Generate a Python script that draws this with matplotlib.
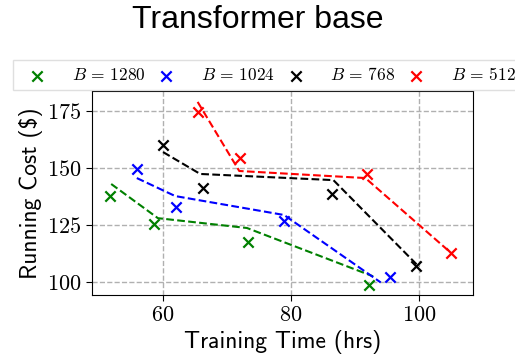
import matplotlib
matplotlib.use("Agg")
import matplotlib.pyplot as plt
from matplotlib.ticker import FuncFormatter

plt.rcParams['mathtext.fontset'] = 'cm'

labels = [r"$B\,=\,1280$", r"$B\,=\,1024$", r"$B\,=\,768$", r"$B\,=\,512$"]
colors = ["green", "blue", "black", "red"]

# measured points
pt_x = [
    [51.7, 58.6, 73.3, 92.2],
    [55.9, 62.0, 78.9, 95.5],
    [60.0, 66.3, 86.4, 99.5],
    [65.4, 72.0, 91.9, 105.0],
]
pt_y = [
    [137.7, 125.4, 117.5, 98.7],
    [149.6, 132.9, 126.8, 102.2],
    [160.1, 141.2, 138.6, 107.0],
    [174.6, 154.4, 147.4, 112.7],
]
# fitted dashed lines
ln_x = [
    [51.9, 59.2, 73.1, 92.8],
    [55.9, 61.9, 78.9, 94.0],
    [60.0, 65.8, 86.6, 100.0],
    [65.4, 71.9, 91.6, 105.0],
]
ln_y = [
    [143.0, 128.0, 123.7, 102.5],
    [145.6, 137.7, 129.4, 99.8],
    [157.0, 147.4, 144.7, 106.6],
    [179.0, 148.7, 145.6, 112.7],
]
yticks = [100, 125, 150, 175]
xticks = [60, 80, 100]

fig = plt.figure(figsize=(5.15, 3.61), dpi=100)
ax = fig.add_axes([0.1786, 0.1828, 0.9184 - 0.1786, 0.748 - 0.1828])

handles = []
for i in range(4):
    ax.plot(ln_x[i], ln_y[i], linestyle='--', color=colors[i], linewidth=1.5, zorder=2)
    h = ax.scatter(pt_x[i], pt_y[i], marker='x', color=colors[i], s=55, linewidths=1.6, zorder=3)
    handles.append(h)

ax.set_xlim(48.9, 108.4)
ax.set_ylim(94.3, 183.8)
ax.set_xticks(xticks)
ax.set_yticks(yticks)
fmt = FuncFormatter(lambda v, p: r"$%d$" % v)
ax.xaxis.set_major_formatter(fmt)
ax.yaxis.set_major_formatter(fmt)
ax.tick_params(labelsize=16, direction='out', length=4)
ax.grid(True, linestyle='--', color='#b0b0b0', linewidth=1.0)
ax.set_axisbelow(True)

ax.set_xlabel("Training Time (hrs)", family='cmss10', fontsize=17, labelpad=3)
ax.set_ylabel("Running Cost (\\$)", family='cmss10', fontsize=17, labelpad=3)

fig.suptitle("Transformer base", family='Liberation Sans', fontsize=23, y=0.985, va='top')

leg = fig.legend(handles, labels, loc='center', ncol=4, bbox_to_anchor=(0.52, 0.792),
                 fontsize=12.5, frameon=True, fancybox=False, edgecolor='#d8d8d8',
                 handletextpad=1.0, columnspacing=0.2, borderpad=0.35, scatterpoints=1)
leg.get_frame().set_linewidth(1.0)

fig.savefig("out.png", dpi=100)
